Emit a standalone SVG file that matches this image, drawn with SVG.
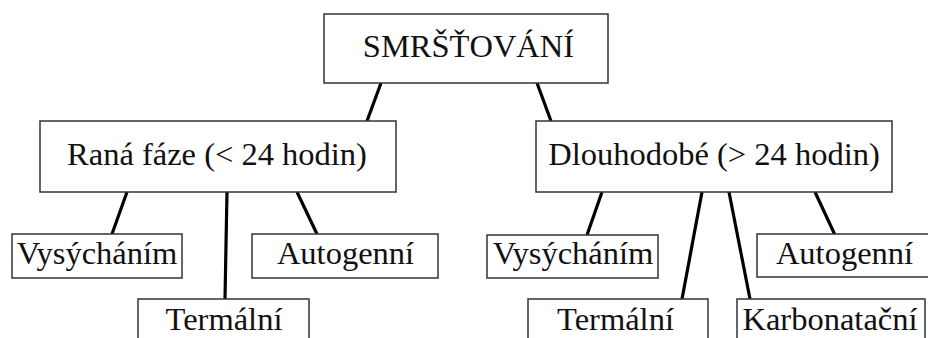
<svg xmlns="http://www.w3.org/2000/svg" width="928" height="338" viewBox="0 0 928 338">
<style>
.box{fill:#fff;stroke:#333;stroke-width:1.5}
.t{font-family:'Liberation Serif',Tinos,'Times New Roman','DejaVu Serif',serif;font-size:32.5px;fill:#111;text-anchor:middle}
.c{stroke:#000;stroke-width:3.2;stroke-linecap:butt}
</style>
<rect width="928" height="338" fill="#fff"/>
<g id="connectors">
<line class="c" x1="381" y1="83" x2="367" y2="121"/>
<line class="c" x1="537" y1="83" x2="551" y2="121"/>
<line class="c" x1="127" y1="192" x2="112" y2="234"/>
<line class="c" x1="227" y1="192" x2="225" y2="299"/>
<line class="c" x1="297" y1="192" x2="317" y2="234"/>
<line class="c" x1="602" y1="192" x2="587" y2="235"/>
<line class="c" x1="702" y1="192" x2="682" y2="299"/>
<line class="c" x1="729" y1="192" x2="750" y2="299"/>
<line class="c" x1="815" y1="192" x2="835" y2="235"/>
</g>
<g id="root">
<rect class="box" x="324" y="14" width="284" height="69"/>
<text class="t" x="468.5" y="57">SMRŠŤOVÁNÍ</text>
</g>
<g id="early">
<rect class="box" x="40" y="121" width="356" height="71"/>
<text class="t" x="217" y="165">Raná fáze (&lt; 24 hodin)</text>
</g>
<g id="long">
<rect class="box" x="536" y="121" width="356" height="71"/>
<text class="t" x="714" y="165">Dlouhodobé (&gt; 24 hodin)</text>
</g>
<g id="early-dry">
<rect class="box" x="12" y="234" width="170" height="44"/>
<text class="t" x="97" y="264">Vysýcháním</text>
</g>
<g id="early-auto">
<rect class="box" x="252" y="234" width="186" height="44"/>
<text class="t" x="345.5" y="264">Autogenní</text>
</g>
<g id="early-therm">
<rect class="box" x="138" y="299" width="171" height="60"/>
<text class="t" x="224" y="330">Termální</text>
</g>
<g id="long-dry">
<rect class="box" x="487" y="235" width="171" height="43"/>
<text class="t" x="573" y="264">Vysýcháním</text>
</g>
<g id="long-auto">
<rect class="box" x="757" y="234" width="180" height="43"/>
<text class="t" x="844.5" y="264">Autogenní</text>
</g>
<g id="long-therm">
<rect class="box" x="528" y="299" width="180" height="60"/>
<text class="t" x="615.5" y="330">Termální</text>
</g>
<g id="long-carb">
<rect class="box" x="737" y="299" width="188" height="60"/>
<text class="t" x="830" y="330">Karbonatační</text>
</g>
</svg>
